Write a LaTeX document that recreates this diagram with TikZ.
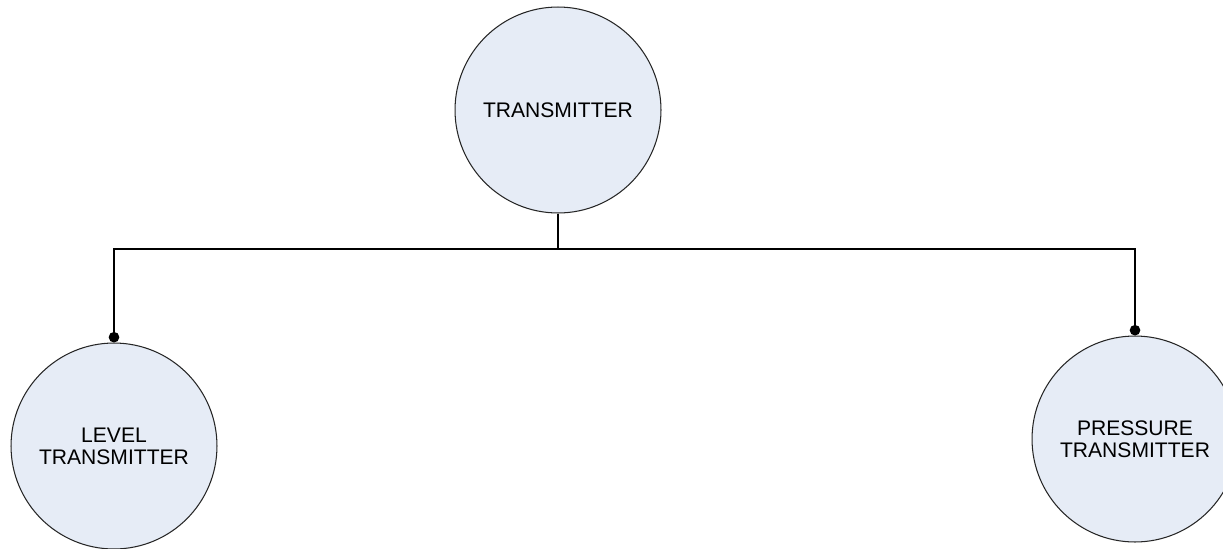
\documentclass[tikz,border=0pt]{standalone}
\usepackage{fontspec}
\setmainfont{Liberation Sans}
\usetikzlibrary{arrows.meta}
\definecolor{bubble}{RGB}{230,236,246}
\begin{document}
\begin{tikzpicture}[
  x=0.02cm, y=-0.02cm,
  unit/.style={circle, draw=black!85, fill=bubble, line width=0.6pt, minimum size=4.12cm, inner sep=0pt, align=center, font=\fontsize{12}{12.5}\selectfont},
  link/.style={line width=0.8pt, -{Circle[length=6pt]}}
]
\useasboundingbox (0,0) rectangle (1223,548);
\node[unit] (trans) at (558,110) {TRANSMITTER};
\node[unit] (level) at (114,446) {LEVEL\\TRANSMITTER};
\node[unit] (press) at (1135,439) {PRESSURE\\TRANSMITTER};
\coordinate (bus) at (558,249);
\draw[line width=0.8pt] (trans) -- (bus);
\draw[link] (bus) -| (level);
\draw[link] (bus) -| (press);
\end{tikzpicture}
\end{document}
